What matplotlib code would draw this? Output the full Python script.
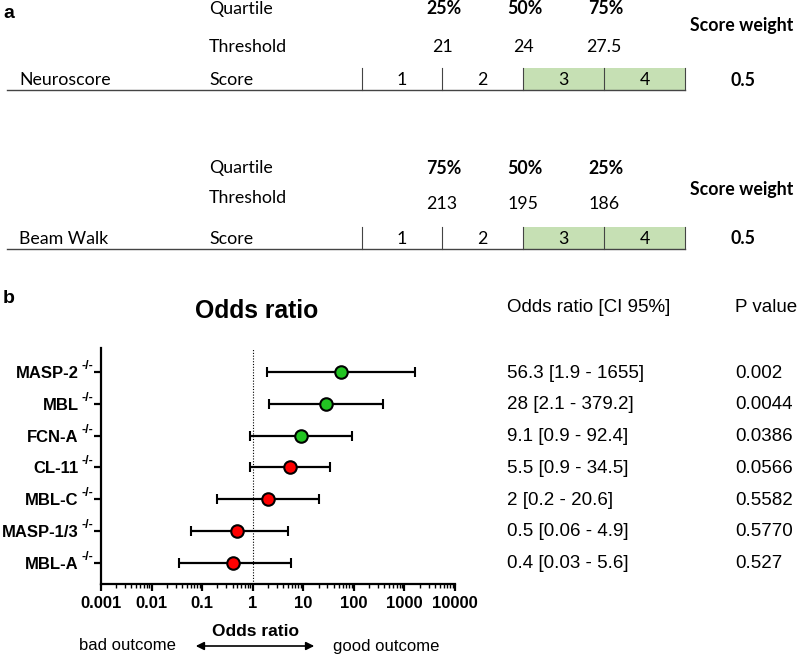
import matplotlib.pyplot as plt
import matplotlib.patches as mpatches
import matplotlib.transforms as mtransforms
import matplotlib.ticker as mticker
import numpy as np

# panel a data
neuro_quartiles = ["25%", "50%", "75%"]
neuro_thresholds = ["21", "24", "27.5"]
beam_quartiles = ["75%", "50%", "25%"]
beam_thresholds = ["213", "195", "186"]
scores = ["1", "2", "3", "4"]
score_green = [False, False, True, True]
score_weight = "0.5"

# panel b data
genes = ["MASP-2", "MBL", "FCN-A", "CL-11", "MBL-C", "MASP-1/3", "MBL-A"]
odds = [56.3, 28, 9.1, 5.5, 2, 0.5, 0.4]
ci_low = [1.9, 2.1, 0.9, 0.9, 0.2, 0.06, 0.035]
ci_high = [1655, 379.2, 92.4, 34.5, 20.6, 4.9, 5.6]
ci_text = ["56.3 [1.9 - 1655]", "28 [2.1 - 379.2]", "9.1 [0.9 - 92.4]",
           "5.5 [0.9 - 34.5]", "2 [0.2 - 20.6]", "0.5 [0.06 - 4.9]",
           "0.4 [0.03 - 5.6]"]
p_values = ["0.002", "0.0044", "0.0386", "0.0566", "0.5582", "0.5770", "0.527"]
significant = [True, True, True, False, False, False, False]

W, H = 797, 656
fig = plt.figure(figsize=(W / 100, H / 100), dpi=100)


def px(x, y):
    return x / W, 1 - y / H


calib = "Lato"
fs_a = 12.8
fs_tab = 13.5
arial = "Liberation Sans"

fig.text(*px(3, 13), "a", fontsize=14, fontweight="bold", family=arial,
         va="center", ha="left")

edges = [362, 442, 523, 604, 685]


def score_block(y0, name, quartiles, thresholds, y_thr_label, y_thr, y_weight):
    fig.text(*px(209, y0 + 9), "Quartile", family=calib, fontsize=fs_a, va="center")
    fig.text(*px(209, y_thr_label), "Threshold", family=calib, fontsize=fs_a, va="center")
    fig.text(*px(209, y0 + 80), "Score", family=calib, fontsize=fs_a, va="center")
    fig.text(*px(19, y0 + 80), name, family=calib, fontsize=fs_a, va="center")
    fig.text(*px(690, y_weight), "Score weight", family=calib, fontsize=fs_a,
             fontweight="bold", va="center")
    fig.text(*px(743, y0 + 80), score_weight, family=calib, fontsize=fs_a,
             fontweight="bold", va="center", ha="center")
    for i, (q, t) in enumerate(zip(quartiles, thresholds)):
        fig.text(*px(edges[i + 1] + 2, y0 + 9), q, family=calib, fontsize=fs_a,
                 fontweight="bold", va="center", ha="center")
        fig.text(*px(edges[i + 1], y_thr), t, family=calib, fontsize=fs_a,
                 va="center", ha="center")
    for i, s in enumerate(scores):
        x0, x1 = edges[i], edges[i + 1]
        if score_green[i]:
            fig.patches.append(mpatches.Rectangle(px(x0, y0 + 90), (x1 - x0) / W, 22 / H,
                                                  transform=fig.transFigure,
                                                  facecolor="#c6e0b4", edgecolor="none"))
        fig.text(*px((x0 + x1) / 2, y0 + 80), s, family=calib, fontsize=fs_a,
                 va="center", ha="center")
    for e in edges:
        fig.add_artist(plt.Line2D([e / W, e / W], [1 - (y0 + 68) / H, 1 - (y0 + 90) / H],
                                  color="#444444", lw=0.8, transform=fig.transFigure))
    fig.add_artist(plt.Line2D([7 / W, 685 / W], [1 - (y0 + 90) / H] * 2,
                              color="#444444", lw=1.0, transform=fig.transFigure))


score_block(0, "Neuroscore", neuro_quartiles, neuro_thresholds, 47, 47, 26)
score_block(159, "Beam Walk", beam_quartiles, beam_thresholds, 198, 204, 189)

# panel b
fig.text(*px(3, 298), "b", fontsize=14, fontweight="bold", family=arial,
         va="center", ha="left")
fig.text(*px(257, 311), "Odds ratio", fontsize=17.8, fontweight="bold", family=arial,
         va="center", ha="center")
fig.text(*px(507, 308), "Odds ratio [CI 95%]", fontsize=fs_tab, family=arial, va="center")
fig.text(*px(735, 308), "P value", fontsize=fs_tab, family=arial, va="center")

ax = fig.add_axes([101 / W, 1 - 584 / H, 354 / W, 236 / H])
n = len(genes)
ypos = np.arange(n, 0, -1)
for i in range(n):
    ax.errorbar(odds[i], ypos[i],
                xerr=[[odds[i] - ci_low[i]], [ci_high[i] - odds[i]]],
                fmt="o", color="black", ecolor="black", elinewidth=1.6, capsize=3.6,
                capthick=1.6, markersize=9, markeredgewidth=1.5,
                markerfacecolor="#22c422" if significant[i] else "#ff0000",
                markeredgecolor="black", zorder=3)
    fig.text(*px(507, 373 + i * 31.8), ci_text[i], fontsize=fs_tab, family=arial,
             va="center")
    fig.text(*px(735, 373 + i * 31.8), p_values[i], fontsize=fs_tab, family=arial,
             va="center")

ax.axvline(1, color="black", lw=0.8, ls=(0, (1, 1.5)), zorder=1)
ax.set_xscale("log")
ax.set_xlim(0.001, 10000)
ax.set_ylim(0.344, n + 0.75)
ax.set_yticks(ypos)
ax.set_yticklabels(genes, fontsize=12, fontweight="bold", family=arial)
sup_tr = mtransforms.offset_copy(ax.get_yaxis_transform(), fig=fig, x=-8, y=0, units="dots")
for y in ypos:
    ax.text(0, y, "-/-", transform=sup_tr, fontsize=9, fontweight="bold", family=arial,
            ha="right", va="bottom", clip_on=False)
ax.xaxis.set_minor_locator(mticker.LogLocator(base=10, subs=np.arange(2, 10), numticks=20))
ax.xaxis.set_minor_formatter(mticker.NullFormatter())
ax.set_xticks([0.001, 0.01, 0.1, 1, 10, 100, 1000, 10000])
ax.set_xticklabels(["0.001", "0.01", "0.1", "1", "10", "100", "1000", "10000"],
                   fontsize=12, fontweight="bold", family=arial)
for s in ["top", "right"]:
    ax.spines[s].set_visible(False)
for s in ["left", "bottom"]:
    ax.spines[s].set_linewidth(1.6)
ax.tick_params(axis="y", which="major", width=1.6, length=5, pad=11)
ax.tick_params(axis="x", which="major", width=1.6, length=5, pad=4)
ax.tick_params(axis="x", which="minor", width=1.0, length=3)

fig.text(*px(255, 632), "Odds ratio", fontsize=12.5, fontweight="bold", family=arial,
         va="center", ha="center")
fig.text(*px(79, 646), "bad outcome", fontsize=12, family=arial, va="center")
fig.text(*px(333, 646), "good outcome", fontsize=12, family=arial, va="center")
fig.add_artist(mpatches.FancyArrowPatch(px(193, 646), px(317, 646), arrowstyle="<|-|>",
                                        mutation_scale=12, lw=1.2, color="black",
                                        transform=fig.transFigure))

fig.savefig("out.png", dpi=100)
